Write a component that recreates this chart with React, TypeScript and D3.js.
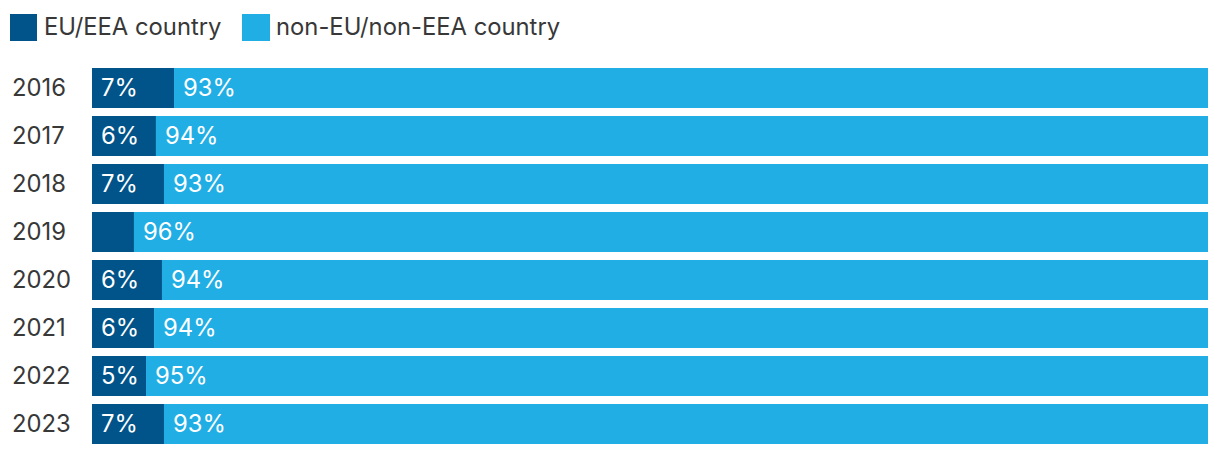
import React from "react";
import * as d3 from "d3";

const years = ["2016", "2017", "2018", "2019", "2020", "2021", "2022", "2023"];
const euShare = [7.35, 5.73, 6.45, 3.76, 6.27, 5.56, 4.84, 6.45];
const euLabels = ["7%", "6%", "7%", "", "6%", "6%", "5%", "7%"];
const nonEuLabels = ["93%", "94%", "93%", "96%", "94%", "94%", "95%", "93%"];
const seriesNames = ["EU/EEA country", "non-EU/non-EEA country"];

const W = 1220;
const H = 456;
const COLORS = ["#00548a", "#21aee5"];
const FONT = "Inter, 'Noto Sans', sans-serif";
const FS = 23.8;

export default function App() {
  const x = d3.scaleLinear().domain([0, 100]).range([92, 1208]);
  const y = d3
    .scaleBand<string>()
    .domain(years)
    .range([68, 444])
    .paddingInner(8 / 48)
    .paddingOuter(0);

  const stack = d3
    .stack<{ year: string; eu: number; non: number }>()
    .keys(["eu", "non"]);
  const rows = years.map((yr, i) => ({ year: yr, eu: euShare[i], non: 100 - euShare[i] }));
  const series = stack(rows);
  const labels = [euLabels, nonEuLabels];

  return (
    <svg
      width={W}
      height={H}
      style={{ position: "absolute", left: 0, top: 0, display: "block", background: "#fff" }}
      fontFamily={FONT}
    >
      {/* legend */}
      <g>
        <rect x={10} y={14} width={27} height={27} fill={COLORS[0]} />
        <text x={44} y={26} dominantBaseline="central" fontSize={FS} fill="#383838">
          {seriesNames[0]}
        </text>
        <rect x={242} y={14} width={28} height={27} fill={COLORS[1]} />
        <text x={276} y={26} dominantBaseline="central" fontSize={FS} fill="#383838">
          {seriesNames[1]}
        </text>
      </g>
      {/* y labels */}
      {years.map((yr) => (
        <text
          key={yr}
          x={12}
          y={(y(yr) as number) + y.bandwidth() / 2 - 1}
          dominantBaseline="central"
          fontSize={FS}
          fill="#383838"
        >
          {yr}
        </text>
      ))}
      {series.map((s, si) => (
        <g key={si}>
          {s.map((d, i) => {
            const x0 = x(d[0]);
            const x1 = x(d[1]);
            const yy = y(d.data.year) as number;
            return (
              <g key={i}>
                <rect x={x0} y={yy} width={x1 - x0} height={y.bandwidth()} fill={COLORS[si]} />
                {labels[si][i] ? (
                  <text
                    x={x0 + 9}
                    y={yy + y.bandwidth() / 2 - 1}
                    dominantBaseline="central"
                    fontSize={FS}
                    fill="#fff"
                  >
                    {labels[si][i]}
                  </text>
                ) : null}
              </g>
            );
          })}
        </g>
      ))}
    </svg>
  );
}
